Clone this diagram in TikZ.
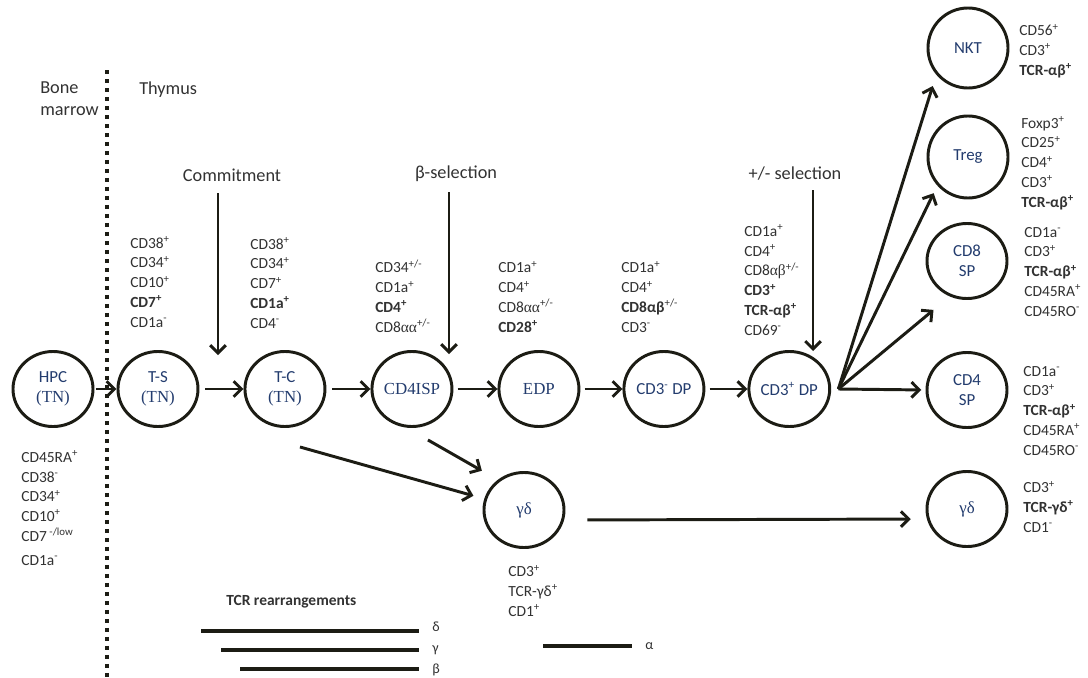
\documentclass[tikz,border=0pt]{standalone}
\usepackage{fontspec}
\setmainfont{Carlito}
\newfontfamily\serifgr{Liberation Serif}
\usetikzlibrary{positioning,shapes.geometric,arrows.meta}
\definecolor{inkline}{RGB}{28,28,20}
\definecolor{inktext}{RGB}{50,50,50}
\definecolor{inknode}{RGB}{35,60,110}
\newcommand{\hi}[1]{\textsuperscript{#1}}
\newcommand{\gr}[1]{{\serifgr #1}}
\tikzset{
cell/.style={
draw=inkline,
ellipse,
line width=2.1pt,
minimum width=2cm,minimum height=1.875cm,inner sep=0pt,align=center,
text=inknode,font={\fontsize{12}{14}\selectfont}},
markers/.style={anchor=base west,align=left,inner sep=0pt,text=inktext,font={\fontsize{11}{14}\selectfont}},
heading/.style={inner sep=0pt,text=inktext,font={\fontsize{13}{15}\selectfont}},
arr/.style={draw=inkline,line width=2.1pt,-{Straight Barb[length=5.5pt,width=11pt]}},
rearr/.style={draw=inkline,line width=2.4pt}
}

\begin{document}
\begin{tikzpicture}[x=0.025cm,y=-0.025cm]
  \useasboundingbox (0,0) rectangle (1088,678);
  % bone marrow / thymus border
  \draw[inkline,line width=3pt,dash pattern=on 2.8pt off 3.6pt] (107,70) -- (107,678);
  \node[heading,anchor=base west,align=left] (bm) at (40,115) {Bone\\marrow};
  \node[heading,anchor=base west] (thy) at (139,94) {Thymus};

  % main row
  \node[cell] (hpc) at (53,389) {HPC\\\gr{(TN)}};
  \node[cell, right=0.55cm of hpc] (ts) {T-S\\\gr{(TN)}};
  \node[cell, right=1.1cm of ts] (tc) {T-C\\\gr{(TN)}};
  \node[cell, right=1.1cm of tc] (isp) {\gr{CD4ISP}};
  \node[cell, right=1.1cm of isp] (edp) {\gr{EDP}};
  \node[cell, right=1.05cm of edp] (dpneg) {CD3\hi{-} DP};
  \node[cell, right=1.05cm of dpneg] (dppos) {CD3\hi{+} DP};
  \draw[arr, shorten <=1pt] (hpc) -- (ts);
  \draw[arr, shorten <=4pt] (ts) -- (tc);
  \draw[arr, shorten <=4pt] (tc) -- (isp);
  \draw[arr, shorten <=3pt] (isp) -- (edp);
  \draw[arr, shorten <=3pt] (edp) -- (dpneg);
  \draw[arr, shorten <=3pt] (dpneg) -- (dppos);

  % mature cells
  \node[cell, minimum height=2cm] (nkt) at (968,48) {NKT};
  \node[cell, minimum height=2.05cm] (treg) at (968,157) {Treg};
  \node[cell] (cdviii) at (967,261) {CD8\\SP};
  \node[cell] (cdiv) at (967,390) {CD4\\SP};
  \node[cell] (gd) at (524,510) {\gr{γδ}};
  \node[cell] (gdr) at (967,509) {\gr{γδ}};

  \coordinate[right=0.18cm of dppos] (fan);
  \draw[arr, shorten >=8.5pt] (fan) -- (nkt.220);
  \draw[arr, shorten >=6pt] (fan) -- (treg.223);
  \draw[arr, shorten >=15pt] (fan) -- (cdviii.244);
  \draw[arr, shorten >=3pt] (fan) -- (cdiv.west);

  \coordinate (tc-out) at ([xshift=0.375cm,yshift=-0.475cm]tc.south);
  \coordinate (isp-out) at ([xshift=0.4cm,yshift=-0.3cm]isp.south);
  \draw[arr, shorten >=8pt] (tc-out) -- (gd);
  \draw[arr, shorten >=13pt] (isp-out) -- (gd.131);
  \draw[arr, shorten <=15.5pt, shorten >=10.5pt] ([yshift=-0.25cm]gd.east) -- ([yshift=-0.25cm]gdr.west);

  % selection steps
  \node[heading,anchor=base] (commit) at (232,181) {Commitment};
  \node[heading,anchor=base] (betasel) at (456,178) {β-selection};
  \node[heading,anchor=base] (pmsel) at (795,179) {+/- selection};
  \coordinate (commit-top) at (218,193);
  \coordinate (commit-tip) at (218,355);
  \coordinate (beta-top) at (449,192);
  \coordinate (beta-tip) at (449,354);
  \coordinate (pm-top) at (813,190);
  \coordinate (pm-tip) at (813,351);
  \draw[arr] (commit-top) -- (commit-tip);
  \draw[arr] (beta-top) -- (beta-tip);
  \draw[arr] (pm-top) -- (pm-tip);

  % surface markers (anchored at the last line)
  \node[markers] (hpc-m) at (21,565) {CD45RA\hi{+}\\CD38\hi{-}\\CD34\hi{+}\\CD10\hi{+}\\CD7\,\hi{-/low}\\[3pt]CD1a\hi{-}};
  \node[markers] (ts-m) at (130,327) {CD38\hi{+}\\CD34\hi{+}\\CD10\hi{+}\\\textbf{CD7\hi{+}}\\CD1a\hi{-}};
  \node[markers] (tc-m) at (250,328) {CD38\hi{+}\\CD34\hi{+}\\CD7\hi{+}\\\textbf{CD1a\hi{+}}\\CD4\hi{-}};
  \node[markers] (isp-m) at (375,332) {CD34\hi{+/-}\\CD1a\hi{+}\\\textbf{CD4\hi{+}}\\CD8\gr{αα}\hi{+/-}};
  \node[markers] (edp-m) at (498,332) {CD1a\hi{+}\\CD4\hi{+}\\CD8\gr{αα}\hi{+/-}\\\textbf{CD28\hi{+}}};
  \node[markers] (dpneg-m) at (621,332) {CD1a\hi{+}\\CD4\hi{+}\\\textbf{CD8αβ}\hi{+/-}\\CD3\hi{-}};
  \node[markers] (dppos-m) at (744,335) {CD1a\hi{+}\\CD4\hi{+}\\CD8\gr{αβ}\hi{+/-}\\\textbf{CD3\hi{+}}\\\textbf{TCR-αβ\hi{+}}\\CD69\hi{-}};
  \node[markers] (nkt-m) at (1019,75) {CD56\hi{+}\\CD3\hi{+}\\\textbf{TCR-αβ\hi{+}}};
  \node[markers] (treg-m) at (1021,207) {Foxp3\hi{+}\\CD25\hi{+}\\CD4\hi{+}\\CD3\hi{+}\\\textbf{TCR-αβ\hi{+}}};
  \node[markers] (cdviii-m) at (1024,316) {CD1a\hi{-}\\CD3\hi{+}\\\textbf{TCR-αβ\hi{+}}\\CD45RA\hi{+}\\CD45RO\hi{-}};
  \node[markers] (cdiv-m) at (1023,455) {CD1a\hi{-}\\CD3\hi{+}\\\textbf{TCR-αβ\hi{+}}\\CD45RA\hi{+}\\CD45RO\hi{-}};
  \node[markers] (gdr-m) at (1023,532) {CD3\hi{+}\\\textbf{TCR-γδ\hi{+}}\\CD1\hi{-}};
  \node[markers] (gd-m) at (508,616) {CD3\hi{+}\\TCR-γδ\hi{+}\\CD1\hi{+}};

  % TCR rearrangements
  \node[markers,font={\fontsize{11}{14}\selectfont\bfseries}] (tcr) at (226,605) {TCR rearrangements};
  \draw[rearr] (201,631) -- (419,631);
  \draw[rearr] (221,650) -- (419,650);
  \draw[rearr] (240,669) -- (419,669);
  \draw[rearr] (543,646) -- (632,646);
  \node[markers,anchor=west,font={\fontsize{10}{12}\selectfont}] (delta) at (432,627) {δ};
  \node[markers,anchor=west,font={\fontsize{10}{12}\selectfont}] (gamma) at (432,650) {γ};
  \node[markers,anchor=west,font={\fontsize{10}{12}\selectfont}] (beta) at (432,670) {β};
  \node[markers,anchor=west,font={\fontsize{10}{12}\selectfont}] (alpha) at (645,646) {α};
\end{tikzpicture}
\end{document}
